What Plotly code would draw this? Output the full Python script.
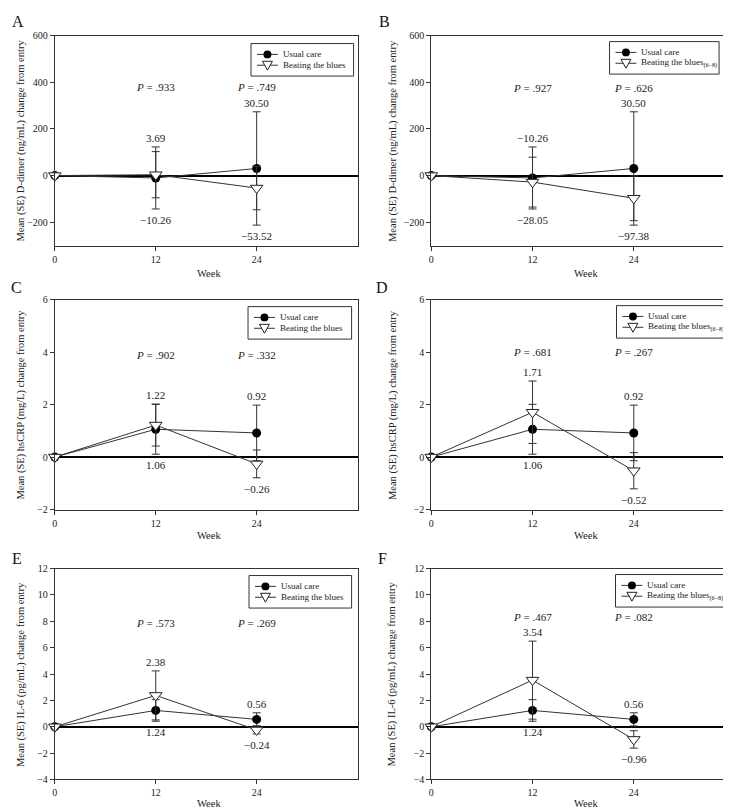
import plotly.graph_objects as go

W, H = 731, 809
FONT = "Liberation Serif, Times New Roman, serif"
INK = "#222"

weeks = [0, 12, 24]
week_ticks = [0, 12, 24]

# D-dimer (ng/mL)
uc_ddimer = [0, -10.26, 30.50]
uc_ddimer_se = [0, 133, 243]
btb_ddimer = [0, 3.69, -53.52]
btb_ddimer_se = [0, 99, 93]
btb68_ddimer = [0, -28.05, -97.38]
btb68_ddimer_se = [0, 107, 96]

# hsCRP (mg/L)
uc_crp = [0, 1.06, 0.92]
uc_crp_se = [0, 0.95, 1.06]
btb_crp = [0, 1.22, -0.26]
btb_crp_se = [0, 0.80, 0.53]
btb68_crp = [0, 1.71, -0.52]
btb68_crp_se = [0, 1.19, 0.69]

# IL-6 (pg/mL)
uc_il6 = [0, 1.24, 0.56]
uc_il6_se = [0, 0.82, 0.50]
btb_il6 = [0, 2.38, -0.24]
btb_il6_se = [0, 1.86, 0.30]
btb68_il6 = [0, 3.54, -0.96]
btb68_il6_se = [0, 2.96, 0.66]

# P values (week 12, week 24)
p_a = [".933", ".749"]
p_b = [".927", ".626"]
p_c = [".902", ".332"]
p_d = [".681", ".267"]
p_e = [".573", ".269"]
p_f = [".467", ".082"]

ticks_ddimer = [-200, 0, 200, 400, 600]
ticks_crp = [-2, 0, 2, 4, 6]
ticks_il6 = [-4, -2, 0, 2, 4, 6, 8, 10, 12]

title_ddimer = "Mean (SE) D-dimer (ng/mL) change from entry"
title_crp = "Mean (SE) hsCRP (mg/L) change from entry"
title_il6 = "Mean (SE) IL-6 (pg/mL) change from entry"

name_uc = "Usual care"
name_btb = "Beating the blues"
name_btb68 = "Beating the blues<sub>(6–8)</sub>"

panels = [
    dict(letter="A", uc=uc_ddimer, uc_se=uc_ddimer_se, bt=btb_ddimer, bt_se=btb_ddimer_se, bt_name=name_btb,
         p=p_a, p_y=380, yr=[-300, 600], yt=ticks_ddimer, title=title_ddimer,
         box=(44, 348, 22, 235), leg=(241, 30, 103), let=(7, 8), ytx=10, wy=263),
    dict(letter="B", uc=uc_ddimer, uc_se=uc_ddimer_se, bt=btb68_ddimer, bt_se=btb68_ddimer_se, bt_name=name_btb68,
         p=p_b, p_y=375, yr=[-300, 600], yt=ticks_ddimer, title=title_ddimer,
         box=(422, 727, 22, 235), leg=(601, 28, 110), let=(375, 8), ytx=383, wy=263),
    dict(letter="C", uc=uc_crp, uc_se=uc_crp_se, bt=btb_crp, bt_se=btb_crp_se, bt_name=name_btb,
         p=p_c, p_y=3.9, yr=[-2, 6], yt=ticks_crp, title=title_crp,
         box=(44, 348, 290, 503), leg=(238, 297, 104), let=(6, 278), ytx=10, wy=529),
    dict(letter="D", uc=uc_crp, uc_se=uc_crp_se, bt=btb68_crp, bt_se=btb68_crp_se, bt_name=name_btb68,
         p=p_d, p_y=4.0, yr=[-2, 6], yt=ticks_crp, title=title_crp,
         box=(422, 727, 290, 503), leg=(608, 296, 114), let=(373, 278), ytx=383, wy=529),
    dict(letter="E", uc=uc_il6, uc_se=uc_il6_se, bt=btb_il6, bt_se=btb_il6_se, bt_name=name_btb,
         p=p_e, p_y=7.9, yr=[-4, 12], yt=ticks_il6, title=title_il6,
         box=(44, 348, 563, 777), leg=(239, 570, 103), let=(6, 553), ytx=10, wy=801),
    dict(letter="F", uc=uc_il6, uc_se=uc_il6_se, bt=btb68_il6, bt_se=btb68_il6_se, bt_name=name_btb68,
         p=p_f, p_y=8.3, yr=[-4, 12], yt=ticks_il6, title=title_il6,
         box=(422, 727, 563, 777), leg=(607, 569, 114), let=(373, 553), ytx=383, wy=801),
]


def fmt(v):
    s = f"{abs(v):.2f}"
    return ("\u2212" + s) if v < 0 else s


def px(x):
    return x / W


def py(y):
    return 1 - y / H


fig = go.Figure()
layout = dict(
    width=W, height=H, margin=dict(l=0, r=0, t=0, b=0),
    paper_bgcolor="white", plot_bgcolor="white",
    font=dict(family=FONT, size=11, color=INK),
    showlegend=False,
)
annotations = []
shapes = []

for i, p in enumerate(panels):
    n = i + 1
    xa = "x" if n == 1 else f"x{n}"
    ya = "y" if n == 1 else f"y{n}"
    x0, x1, y0, y1 = p["box"]

    err = dict(type="data", visible=True, color="#333", thickness=1, width=4)
    fig.add_trace(go.Scatter(
        x=weeks, y=p["uc"], error_y=dict(err, array=p["uc_se"]),
        mode="lines+markers", name=name_uc, cliponaxis=False,
        line=dict(color="#333", width=1),
        marker=dict(symbol="circle", size=9, color="black", line=dict(color="black", width=0)),
        xaxis=xa, yaxis=ya,
    ))
    fig.add_trace(go.Scatter(
        x=weeks, y=p["bt"], error_y=dict(err, array=p["bt_se"]),
        mode="lines+markers", name=p["bt_name"], cliponaxis=False,
        line=dict(color="#333", width=1),
        marker=dict(symbol="triangle-down", size=11, color="white", line=dict(color="#222", width=1)),
        xaxis=xa, yaxis=ya,
    ))

    layout[f"xaxis{n}"] = dict(
        domain=[px(x0), px(x1)], anchor=ya, range=[0, 36], tickvals=week_ticks,
        ticks="outside", ticklen=4, tickcolor="#333", showline=True, mirror=True,
        linecolor="#333", linewidth=1, showgrid=False, zeroline=False,
        tickfont=dict(size=10, family=FONT, color=INK),
    )
    layout[f"yaxis{n}"] = dict(
        domain=[py(y1), py(y0)], anchor=xa, range=p["yr"], tickvals=p["yt"],
        ticks="outside", ticklen=4, tickcolor="#333", showline=True, mirror=True,
        linecolor="#333", linewidth=1, showgrid=False,
        zeroline=True, zerolinecolor="black", zerolinewidth=2,
        tickfont=dict(size=10, family=FONT, color=INK),
    )

    # legend box (drawn)
    L, T, LW = p["leg"]
    LH = 33
    shapes.append(dict(type="rect", xref="paper", yref="paper",
                       x0=px(L), x1=px(L + LW), y0=py(T + LH), y1=py(T),
                       line=dict(color="#333", width=1), fillcolor="white", layer="above"))
    for r, (nm, kind) in enumerate([(name_uc, "c"), (p["bt_name"], "t")]):
        ry = T + 11 + 11 * r
        shapes.append(dict(type="line", xref="paper", yref="paper",
                           x0=px(L + 6), x1=px(L + 27), y0=py(ry), y1=py(ry),
                           line=dict(color="#333", width=1), layer="above"))
        cx = L + 16.5
        if kind == "c":
            shapes.append(dict(type="circle", xref="paper", yref="paper",
                               x0=px(cx - 4), x1=px(cx + 4), y0=py(ry + 4), y1=py(ry - 4),
                               line=dict(color="black", width=0), fillcolor="black", layer="above"))
        else:
            path = (f"M {px(cx - 5):.6f},{py(ry - 4):.6f} L {px(cx + 5):.6f},{py(ry - 4):.6f} "
                    f"L {px(cx):.6f},{py(ry + 5):.6f} Z")
            shapes.append(dict(type="path", xref="paper", yref="paper", path=path,
                               line=dict(color="#222", width=1), fillcolor="white", layer="above"))
        annotations.append(dict(
            text=nm, xref="paper", yref="paper", x=px(L + 30), y=py(ry),
            xanchor="left", yanchor="middle", showarrow=False,
            font=dict(size=9, family=FONT, color=INK),
        ))

    # panel letter
    annotations.append(dict(
        text=p["letter"], xref="paper", yref="paper", x=px(p["let"][0]), y=py(p["let"][1]),
        xanchor="center", yanchor="middle", showarrow=False,
        font=dict(size=16, family=FONT, color="#111"),
    ))
    # y title
    annotations.append(dict(
        text=p["title"], xref="paper", yref="paper", x=px(p["ytx"]), y=py((y0 + y1) / 2),
        textangle=-90, xanchor="center", yanchor="middle", showarrow=False,
        font=dict(size=10.5, family=FONT, color=INK),
    ))
    # x title
    annotations.append(dict(
        text="Week", xref="paper", yref="paper", x=px((x0 + x1) / 2 + 3), y=py(p["wy"]),
        xanchor="center", yanchor="middle", showarrow=False,
        font=dict(size=10.5, family=FONT, color=INK),
    ))
    # P values
    for k, wk in enumerate(weeks[1:]):
        annotations.append(dict(
            text=f"<i>P</i> = {p['p'][k]}", xref=xa, yref=ya, x=wk, y=p["p_y"],
            xanchor="center", yanchor="middle", showarrow=False,
            font=dict(size=11, family=FONT, color=INK),
        ))
    # value labels
    for j in (1, 2):
        wk = weeks[j]
        vals = [(p["uc"][j], p["uc_se"][j]), (p["bt"][j], p["bt_se"][j])]
        hi = max(vals, key=lambda t: t[0])
        lo = min(vals, key=lambda t: t[0])
        top = max(v + s for v, s in vals)
        bot = min(v - s for v, s in vals)
        annotations.append(dict(
            text=fmt(hi[0]), xref=xa, yref=ya, x=wk, y=top, yshift=9,
            xanchor="center", yanchor="middle", showarrow=False,
            font=dict(size=11, family=FONT, color=INK),
        ))
        annotations.append(dict(
            text=fmt(lo[0]), xref=xa, yref=ya, x=wk, y=bot, yshift=-11,
            xanchor="center", yanchor="middle", showarrow=False,
            font=dict(size=11, family=FONT, color=INK),
        ))

layout["annotations"] = annotations
layout["shapes"] = shapes
fig.update_layout(**layout)
fig.write_html("out.html")
